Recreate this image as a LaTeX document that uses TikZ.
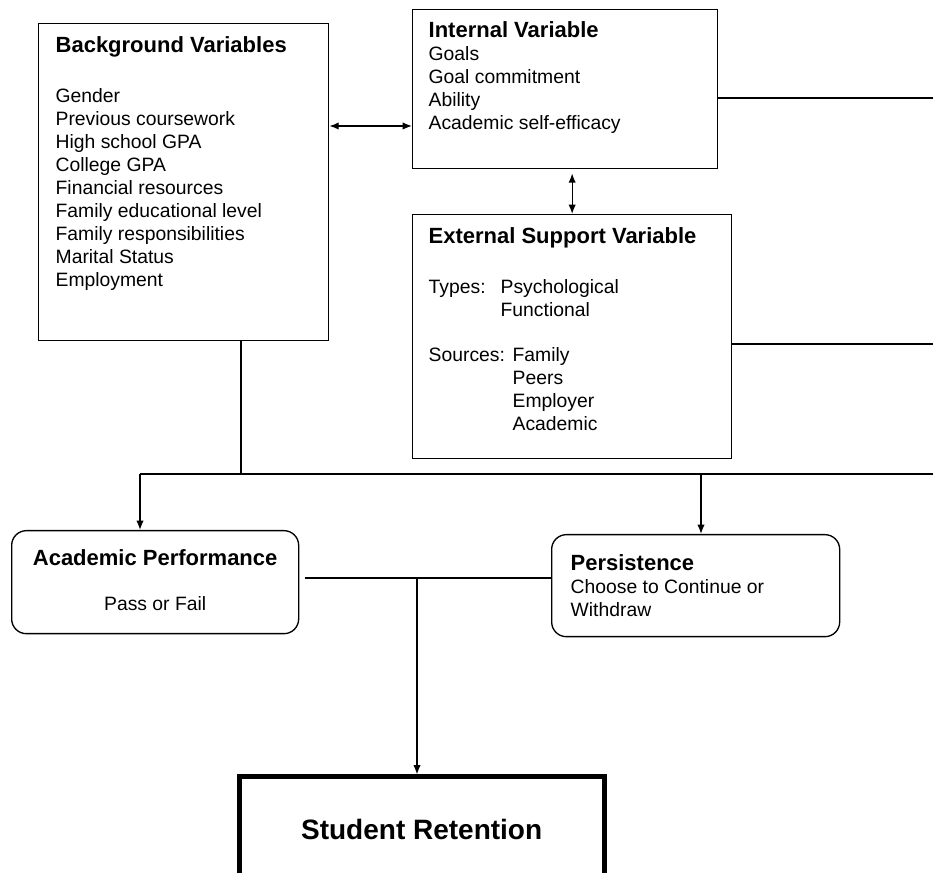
\documentclass[tikz,border=0pt]{standalone}
\usepackage{fontspec}
\setmainfont{Liberation Sans}
\usetikzlibrary{arrows.meta}

% box content: width, height, left pad, text
\newcommand{\inbox}[4]{\parbox[c][#2][t]{#1}{\raggedright\leftskip=#3\relax\fontsize{14.5}{17.25}\selectfont #4}}
\newcommand{\ttl}[1]{{\bfseries\fontsize{16.5}{17.25}\selectfont #1}}

\tikzset{
  varbox/.style={draw,line width=1pt,inner sep=0pt,anchor=north west},
  outbox/.style={varbox,rounded corners=11pt},
  link/.style={line width=1pt},
  arrowto/.style={link,-{Latex[length=7pt,width=5.5pt]}},
  arrowboth/.style={link,{Latex[length=7pt,width=5.5pt]}-{Latex[length=7pt,width=5.5pt]}},
}

\begin{document}
\begin{tikzpicture}[x=0.75pt,y=-0.75pt]
	\useasboundingbox (0,0) rectangle (933,873);

	\node[varbox] (bg) at (38,23) {\inbox{217.5pt}{237.75pt}{12.75pt}{%
		\rule{0pt}{21.75pt}\ttl{Background Variables}\\[20.25pt]
		Gender\\ Previous coursework\\ High school GPA\\ College GPA\\
		Financial resources\\ Family educational level\\
		Family responsibilities\\ Marital Status\\ Employment}};

	\node[varbox] (int) at (412,9) {\inbox{228.75pt}{119.25pt}{12pt}{%
		\rule{0pt}{21pt}\ttl{Internal Variable}\\
		Goals\\ Goal commitment\\ Ability\\ Academic self-efficacy}};

	\node[varbox] (ext) at (412,214) {\inbox{239.25pt}{183pt}{12pt}{%
		\rule{0pt}{21.75pt}\ttl{External Support Variable}\\[20.25pt]
		\makebox[54pt][l]{Types:}Psychological\\
		\hspace*{54pt}Functional\\[16.5pt]
		\makebox[63pt][l]{Sources:}Family\\
		\hspace*{63pt}Peers\\ \hspace*{63pt}Employer\\ \hspace*{63pt}Academic}};

	\node[outbox] (acad) at (11,530) {\inbox{215.25pt}{77.25pt}{0pt}{\centering
		\rule{0pt}{26.25pt}\ttl{Academic Performance}\\[16.5pt] Pass or Fail}};

	\node[outbox] (pers) at (551,534) {\inbox{216pt}{76.5pt}{14.25pt}{%
		\rule{0pt}{27pt}\ttl{Persistence}\\ Choose to Continue or\\ Withdraw}};

	\node[varbox,line width=3.75pt] (ret) at (236.5,774.5) {\parbox[c][112.5pt][t]{274pt}{\centering
		\rule{0pt}{46.5pt}\bfseries\fontsize{21}{24}\selectfont Student Retention}};

	\coordinate (ab) at (0,126); % level of the two-way arrow
	\coordinate (ir) at (933,98);
	\coordinate (er) at (933,344);
	\coordinate (busA) at (140,474);
	\coordinate (busB) at (241,474);
	\coordinate (busP) at (701,474);
	\coordinate (busR) at (933,474);
	\coordinate (mid) at (417,578);

	\draw[arrowboth] (bg.east |- ab)--(int.west |- ab);
	\draw[arrowboth,shorten <=3pt] (int.south -| ext.north)--(ext.north);

	\draw[link] (int.east |- ir)--(ir);
	\draw[link] (ext.east |- er)--(er);

	\draw[link] (bg.south -| busB)--(busB);
	\draw[link] (busA)--(busR);
	\draw[arrowto] (busA)--(acad.north -| busA);
	\draw[arrowto] (busP)--(pers.north -| busP);

	\draw[link,shorten <=4pt] (acad.east |- mid)--(pers.west |- mid);
	\draw[arrowto] (mid)--(ret.north -| mid);
\end{tikzpicture}
\end{document}
